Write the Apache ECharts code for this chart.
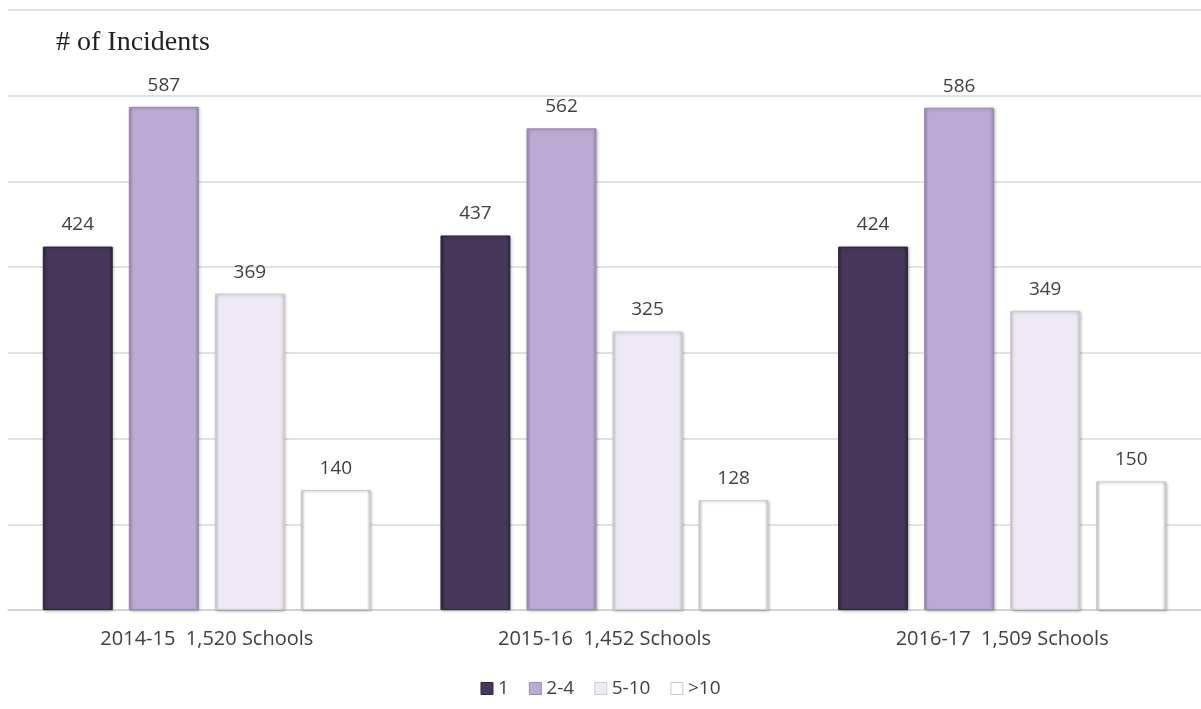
<!DOCTYPE html>
<html><head><meta charset="utf-8">
<script src="https://cdn.jsdelivr.net/npm/echarts@6/dist/echarts.min.js"></script>
<style>html,body{margin:0;padding:0;background:#fff}#c{width:1201px;height:709px}</style>
</head><body><div id="c"></div>
<script>
var categories = ['2014-15  1,520 Schools', '2015-16  1,452 Schools', '2016-17  1,509 Schools'];
var seriesNames = ['1', '2-4', '5-10', '>10'];
var s1 = [424, 437, 424];
var s24 = [587, 562, 586];
var s510 = [369, 325, 349];
var s10 = [140, 128, 150];
var yTicks = [0, 100, 200, 300, 400, 500, 600, 700];

var colors = ['#47375a', '#bbaad3', '#eeeaf5', '#ffffff'];
var borders = ['#2f2440', '#9b88b6', '#cfc8d9', '#c8c8c8'];
var values = [s1, s24, s510, s10];

function mk(i) {
  return {
    name: seriesNames[i], type: 'bar', data: values[i],
    barGap: '23%', barCategoryGap: '17.5%',
    itemStyle: {
      color: new echarts.graphic.LinearGradient(0, 0, 1, 0, [
        {offset: 0, color: borders[i]}, {offset: 0.06, color: colors[i]},
        {offset: 0.94, color: colors[i]}, {offset: 1, color: borders[i]}]),
      borderColor: borders[i], borderWidth: 1,
      shadowColor: 'rgba(0,0,0,0.25)', shadowBlur: 3, shadowOffsetX: 1, shadowOffsetY: 1
    },
    label: {show: true, position: 'top', distance: 12, color: '#404040',
      fontFamily: 'Open Sans', fontSize: 19}
  };
}

var chart = echarts.init(document.getElementById('c'));
chart.setOption({
  animation: false,
  title: {text: '# of Incidents', left: 51, top: 24,
    textStyle: {fontFamily: 'Liberation Serif', fontWeight: 'normal', fontSize: 28, color: '#222'}},
  legend: {bottom: 6, left: 'center', itemWidth: 12, itemHeight: 12, itemGap: 20, icon: 'rect',
    data: seriesNames.map(function (n, i) {
      return {name: n, itemStyle: {color: colors[i], borderColor: borders[i], borderWidth: 1}};
    }),
    textStyle: {fontFamily: 'Open Sans', fontSize: 19, color: '#404040'}},
  grid: {left: 8, right: 0, top: 10, bottom: 99, containLabel: false},
  xAxis: {type: 'category', data: categories,
    axisLine: {lineStyle: {color: '#d0d0d0', width: 1.5}}, axisTick: {show: false},
    axisLabel: {color: '#404040', fontFamily: 'Open Sans', fontSize: 20, margin: 19}},
  yAxis: {type: 'value', min: yTicks[0], max: yTicks[yTicks.length - 1], interval: 100,
    axisLabel: {show: false}, axisLine: {show: false}, axisTick: {show: false},
    splitLine: {lineStyle: {color: '#d9d9d9', width: 1.5}}},
  series: [mk(0), mk(1), mk(2), mk(3)]
});
</script></body></html>
